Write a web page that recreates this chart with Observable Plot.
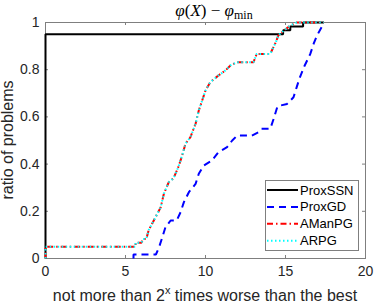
<!DOCTYPE html>
<html><head><meta charset="utf-8">
<script src="https://cdn.jsdelivr.net/npm/d3@7"></script>
<script src="https://cdn.jsdelivr.net/npm/@observablehq/plot@0.6"></script>
<style>html,body{margin:0;padding:0;background:#fff} svg{display:block}</style>
</head><body><div id="chart"></div>
<script>
// ---- data ----
const seriesNames = ["ProxSSN", "ProxGD", "AManPG", "ARPG"];

const proxssnX = [0, 0, 14.85, 14.85, 15.3, 15.3, 16.1, 16.1, 17.4];
const proxssnY = [0, 0.95, 0.95, 0.967, 0.967, 0.983, 0.983, 1.0, 1.0];

const proxgdX = [5.5, 5.5, 6.9, 7.1, 7.3, 7.5, 7.82, 8.2, 8.44, 8.65, 8.96, 9.38, 9.58, 9.9, 10.4, 10.8, 11.35, 11.67, 11.98, 12.9, 13.3, 13.5, 14.05, 14.26, 14.5, 15.1, 15.5, 15.7, 15.9, 16.2, 16.55, 16.76, 16.97, 17.28, 17.4];
const proxgdY = [0, 0.017, 0.017, 0.048, 0.09, 0.133, 0.161, 0.161, 0.196, 0.239, 0.281, 0.316, 0.359, 0.394, 0.415, 0.45, 0.472, 0.5, 0.521, 0.521, 0.535, 0.55, 0.55, 0.592, 0.645, 0.655, 0.683, 0.726, 0.768, 0.818, 0.867, 0.91, 0.945, 0.983, 0.983];

const amanpgX = [0, 0, 5.63, 5.63, 6.0, 6.1, 6.3, 6.45, 6.76, 7.2, 7.4, 7.7, 8.0, 8.3, 8.54, 8.75, 9.06, 9.38, 9.58, 9.79, 10.0, 10.3, 10.8, 11.25, 11.56, 11.98, 13.0, 13.2, 14.05, 14.2, 14.4, 14.55, 14.9, 15.3, 15.7, 17.4];
const amanpgY = [0, 0.05, 0.05, 0.067, 0.067, 0.083, 0.083, 0.12, 0.16, 0.217, 0.275, 0.323, 0.34, 0.387, 0.436, 0.487, 0.514, 0.571, 0.627, 0.669, 0.712, 0.747, 0.775, 0.797, 0.818, 0.832, 0.832, 0.867, 0.867, 0.889, 0.917, 0.945, 0.966, 0.987, 1.0, 1.0];

const arpgX = [0, 0, 5.63, 5.63, 6.0, 6.1, 6.3, 6.45, 6.76, 7.2, 7.4, 7.7, 8.0, 8.3, 8.54, 8.75, 9.06, 9.38, 9.58, 9.79, 10.0, 10.3, 10.8, 11.25, 11.56, 11.98, 13.0, 13.2, 14.05, 14.2, 14.4, 14.55, 14.9, 15.3, 15.7, 17.4];
const arpgY = [0, 0.05, 0.05, 0.067, 0.067, 0.083, 0.083, 0.12, 0.16, 0.217, 0.275, 0.323, 0.34, 0.387, 0.436, 0.487, 0.514, 0.571, 0.627, 0.669, 0.712, 0.747, 0.775, 0.797, 0.818, 0.832, 0.832, 0.867, 0.867, 0.889, 0.917, 0.945, 0.966, 0.987, 1.0, 1.0];

const xTicks = [0, 5, 10, 15, 20];
const xTickLabels = ["0", "5", "10", "15", "20"];
const yTicks = [0, 0.2, 0.4, 0.6, 0.8, 1];
const yTickLabels = ["0", "0.2", "0.4", "0.6", "0.8", "1"];

// ---- layout ----
const W = 374, H = 304, mL = 45, mR = 9, mT = 22, mB = 46;
const innerW = W - mL - mR, innerH = H - mT - mB;
const axisColor = "#262626";
const sans = "'Liberation Sans', Arial, Helvetica, sans-serif";

const styles = [
  {stroke: "#000000", strokeWidth: 2, dash: null},
  {stroke: "#0000ff", strokeWidth: 2, dash: "7,5"},
  {stroke: "#ff0000", strokeWidth: 2, dash: "6,3,1.5,3"},
  {stroke: "#00ffff", strokeWidth: 2, dash: "1.5,2.5"}
];
const rows = (xs, ys) => xs.map((x, i) => ({x, y: ys[i]}));
const data = [rows(proxssnX, proxssnY), rows(proxgdX, proxgdY), rows(amanpgX, amanpgY), rows(arpgX, arpgY)];

const lineMarks = data.map((d, i) => Plot.line(d, {
  x: "x", y: "y", stroke: styles[i].stroke, strokeWidth: styles[i].strokeWidth,
  strokeDasharray: styles[i].dash, strokeLinejoin: "miter", strokeLinecap: "butt"
}));

const chart = Plot.plot({
  width: W, height: H,
  marginLeft: mL, marginRight: mR, marginTop: mT, marginBottom: mB,
  x: {domain: [0, 20]},
  y: {domain: [0, 1]},
  style: {fontFamily: sans, fontSize: "14px", color: axisColor, background: "white", overflow: "visible"},
  marks: [
    Plot.frame({stroke: "#7f7f7f", strokeWidth: 1}),
    Plot.tickX(xTicks, {x: d => d, insetTop: innerH - 3, stroke: "#7f7f7f"}),
    Plot.tickX(xTicks, {x: d => d, insetBottom: innerH - 3, stroke: "#7f7f7f"}),
    Plot.tickY(yTicks, {y: d => d, insetRight: innerW - 3, stroke: "#7f7f7f"}),
    Plot.tickY(yTicks, {y: d => d, insetLeft: innerW - 3, stroke: "#7f7f7f"}),
    Plot.axisX({ticks: xTicks, tickSize: 0, tickPadding: 8, tickFormat: (d, i) => xTickLabels[i], label: null, fill: axisColor}),
    Plot.axisY({ticks: yTicks, tickSize: 0, tickPadding: 6, tickFormat: (d, i) => yTickLabels[i], label: null, fill: axisColor}),
    ...lineMarks
  ]
});
document.getElementById("chart").appendChild(chart);

// ---- title, axis labels, legend (text layout) ----
const svg = d3.select(chart);
const serif = "'Liberation Serif', 'DejaVu Serif', serif";
const title = svg.append("text")
  .attr("x", mL + innerW / 2 + 9).attr("y", 16)
  .attr("text-anchor", "middle")
  .attr("font-family", serif).attr("font-size", 17).attr("fill", "#000");
title.append("tspan").attr("font-style", "italic").text("φ");
title.append("tspan").text("(");
title.append("tspan").attr("font-style", "italic").text("X");
title.append("tspan").text(") − ");
title.append("tspan").attr("font-style", "italic").text("φ");
title.append("tspan").attr("font-size", 12).attr("dy", 3).text("min");

const xl = svg.append("text")
  .attr("x", mL + innerW / 2).attr("y", 301)
  .attr("text-anchor", "middle")
  .attr("font-family", sans).attr("font-size", 16).attr("fill", axisColor);
xl.append("tspan").text("not more than 2");
xl.append("tspan").attr("font-size", 11).attr("dy", -7).text("x");
xl.append("tspan").attr("dy", 7).text(" times worse than the best");

svg.append("text")
  .attr("transform", `translate(13,${mT + innerH / 2}) rotate(-90)`)
  .attr("text-anchor", "middle")
  .attr("font-family", sans).attr("font-size", 16).attr("fill", axisColor)
  .text("ratio of problems");

const lg = svg.append("g");
lg.append("rect").attr("x", 265.5).attr("y", 180.5).attr("width", 93).attr("height", 70)
  .attr("fill", "white").attr("stroke", "#7f7f7f").attr("stroke-width", 1);
seriesNames.forEach((name, i) => {
  const cy = 190 + i * 16.9;
  lg.append("line").attr("x1", 267).attr("x2", 298).attr("y1", cy).attr("y2", cy)
    .attr("stroke", styles[i].stroke).attr("stroke-width", styles[i].strokeWidth)
    .attr("stroke-dasharray", styles[i].dash);
  lg.append("text").attr("x", 300).attr("y", cy).attr("dy", "0.35em")
    .attr("text-anchor", "start")
    .attr("font-family", sans).attr("font-size", 13).attr("fill", "#000").text(name);
});
</script>
</body></html>
